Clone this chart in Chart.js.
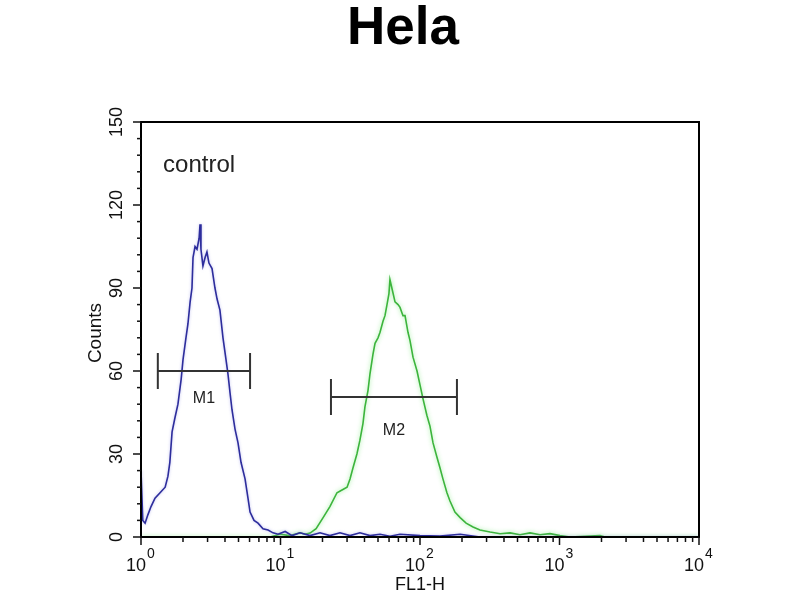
<!DOCTYPE html>
<html>
<head>
<meta charset="utf-8">
<script src="https://cdn.jsdelivr.net/npm/chart.js@4/dist/chart.umd.min.js"></script>
<style>
  html, body { margin: 0; padding: 0; background: #ffffff; }
  #wrap { width: 800px; height: 600px; position: relative; }
</style>
</head>
<body>
<div id="wrap"><canvas id="c" width="800" height="600"></canvas></div>
<script>
// ---- data ----
const chartTitle = 'Hela';
const xAxisTitle = 'FL1-H';
const yAxisTitle = 'Counts';
const annotationText = 'control';

// control histogram (blue): FL1-H value and counts
const controlX = [1.00, 1.03, 1.07, 1.12, 1.18, 1.26, 1.37, 1.49, 1.56, 1.61, 1.67, 1.75, 1.84, 1.94, 2.00,
  2.10, 2.17, 2.25, 2.32, 2.36, 2.44, 2.52, 2.61, 2.65, 2.69, 2.78, 2.88, 2.97, 3.07, 3.23, 3.39, 3.51,
  3.68, 3.87, 4.07, 4.20, 4.35, 4.49, 4.72, 4.96, 5.21, 5.57, 5.85, 6.05, 6.46, 6.90, 7.49, 8.14, 8.84,
  9.60, 10.8, 12.1, 13.8, 16.3, 19.2, 22.6, 26.7, 31.5, 37.1, 43.8, 51.7, 60.9, 71.9, 100, 139, 194,
  269, 1951, 10000];
const controlY = [24, 6, 5, 8, 11, 14, 16, 18, 22, 27, 38, 43, 48, 57, 64,
  72, 77, 85, 90, 101, 105, 104, 108, 113, 104, 98, 101, 103, 99, 97, 90, 86,
  82, 72, 64, 59, 52, 46, 39, 34, 27, 21, 14, 9, 6, 5, 3, 2.5, 1.5,
  1, 2, 0.5, 1.5, 0.5, 1.5, 0.5, 1.5, 0.5, 1.5, 0.5, 1, 0.3, 1, 0.5, 0.3, 1,
  0, 0, 0];

// sample histogram (green): FL1-H value and counts
const sampleX = [1.00, 8.41, 9.92, 11.7, 13.8, 15.0, 16.3, 18.0, 20.2, 22.6, 25.4, 27.6, 30.0, 31.5, 33.1,
  35.3, 37.1, 39.0, 40.3, 42.4, 43.8, 46.0, 47.6, 50.0, 51.7, 54.3, 56.1, 58.0, 59.9, 60.9, 63.5, 66.2,
  69.6, 71.9, 75.5, 78.1, 82.0, 84.8, 89.1, 95.2, 100, 105, 112, 118, 124, 132, 139, 146, 156, 164,
  178, 194, 214, 240, 269, 318, 375, 442, 521, 615, 725, 855, 1008, 1189, 1951, 2120, 10000];
const sampleY = [0, 0, 1, 0.5, 1.5, 1, 1.4, 3, 7, 11, 16, 17, 18, 21, 25,
  30, 35, 41, 47, 53, 59, 66, 70, 72, 74, 78, 80, 84, 88, 93, 89, 85,
  84, 83, 80, 80, 74, 71, 65, 60, 55, 50, 44, 40, 34, 29, 25, 21, 16, 13,
  9, 7, 5, 3.6, 2.5, 1.8, 1.2, 1.5, 0.8, 1.5, 0.8, 1.2, 0.5, 0, 0.5, 0, 0];

// gate markers
const markerNames = ['M1', 'M2'];
const markerStart = [1.32, 23.0];
const markerEnd = [6.05, 184];
const markerLevel = [60, 50.6];
const markerLabelLevel = [50, 38.5];

// axis ticks
const yMajorTicks = [0, 30, 60, 90, 120, 150];
const yMinorStep = 6;
const xDecades = [0, 1, 2, 3, 4];

// ---- chart ----
const FONT = '"Liberation Sans", Arial, Helvetica, sans-serif';

const toPts = (xs, ys) => xs.map((x, i) => ({ x: x, y: ys[i] }));

const glowPlugin = {
  id: 'glow',
  beforeDatasetDraw(chart, args) {
    const ctx = chart.ctx;
    ctx.save();
    if (args.index === 1) {
      ctx.shadowColor = 'rgba(140,235,140,0.9)';
      ctx.shadowBlur = 4;
    } else {
      ctx.shadowColor = 'rgba(150,150,230,0.6)';
      ctx.shadowBlur = 3;
    }
  },
  afterDatasetDraw(chart) {
    chart.ctx.restore();
  }
};

const decorPlugin = {
  id: 'decor',
  afterDraw(chart) {
    const ctx = chart.ctx;
    const xs = chart.scales.x, ys = chart.scales.y;
    const a = chart.chartArea;
    ctx.save();

    // title
    ctx.fillStyle = '#000';
    ctx.font = 'bold 53px ' + FONT;
    ctx.textAlign = 'center';
    ctx.textBaseline = 'alphabetic';
    ctx.fillText(chartTitle, 403, 44);

    // frame
    ctx.strokeStyle = '#000';
    ctx.lineWidth = 2;
    ctx.strokeRect(a.left, a.top, a.right - a.left, a.bottom - a.top);

    // y ticks
    ctx.lineWidth = 1.5;
    ctx.strokeStyle = '#111';
    for (let v = 0; v <= 150; v += yMinorStep) {
      const py = ys.getPixelForValue(v);
      const major = yMajorTicks.includes(v);
      ctx.beginPath();
      ctx.moveTo(a.left, py);
      ctx.lineTo(a.left - (major ? 8 : 4), py);
      ctx.stroke();
    }
    // y labels (rotated)
    ctx.fillStyle = '#111';
    ctx.font = '18px ' + FONT;
    ctx.textAlign = 'center';
    ctx.textBaseline = 'middle';
    yMajorTicks.forEach(v => {
      const py = ys.getPixelForValue(v);
      ctx.save();
      ctx.translate(a.left - 24, py);
      ctx.rotate(-Math.PI / 2);
      ctx.fillText(String(v), 0, 0);
      ctx.restore();
    });
    // y title
    ctx.save();
    ctx.font = '19px ' + FONT;
    ctx.translate(96, 333);
    ctx.rotate(-Math.PI / 2);
    ctx.fillText(yAxisTitle, 0, 0);
    ctx.restore();

    // x ticks
    for (let d = 0; d < 4; d++) {
      for (let m = 1; m <= 9; m++) {
        const val = m * Math.pow(10, d);
        const px = xs.getPixelForValue(val);
        ctx.beginPath();
        ctx.moveTo(px, a.bottom);
        ctx.lineTo(px, a.bottom + (m === 1 ? 8 : 5));
        ctx.stroke();
      }
    }
    {
      const px = xs.getPixelForValue(10000);
      ctx.beginPath();
      ctx.moveTo(px, a.bottom);
      ctx.lineTo(px, a.bottom + 8);
      ctx.stroke();
    }
    // x labels 10^n
    xDecades.forEach(d => {
      const px = xs.getPixelForValue(Math.pow(10, d));
      ctx.font = '18px ' + FONT;
      const w1 = ctx.measureText('10').width;
      ctx.font = '14px ' + FONT;
      const w2 = ctx.measureText(String(d)).width;
      const start = px - (w1 + w2) / 2 - 1;
      ctx.textAlign = 'left';
      ctx.textBaseline = 'alphabetic';
      ctx.font = '18px ' + FONT;
      ctx.fillText('10', start, 571);
      ctx.font = '14px ' + FONT;
      ctx.fillText(String(d), start + w1 + 1, 558);
    });
    // x title
    ctx.font = '18px ' + FONT;
    ctx.textAlign = 'center';
    ctx.fillText(xAxisTitle, 420, 590);

    // annotation
    ctx.font = '24px ' + FONT;
    ctx.textAlign = 'left';
    ctx.fillStyle = '#222';
    ctx.fillText(annotationText, xs.getPixelForValue(1.44), 172);

    // markers
    ctx.strokeStyle = '#333';
    ctx.lineWidth = 2;
    markerNames.forEach((name, i) => {
      const x1 = xs.getPixelForValue(markerStart[i]);
      const x2 = xs.getPixelForValue(markerEnd[i]);
      const py = ys.getPixelForValue(markerLevel[i]);
      ctx.beginPath();
      ctx.moveTo(x1, py); ctx.lineTo(x2, py);
      ctx.moveTo(x1, py - 18); ctx.lineTo(x1, py + 18);
      ctx.moveTo(x2, py - 18); ctx.lineTo(x2, py + 18);
      ctx.stroke();
      ctx.font = '16px ' + FONT;
      ctx.textAlign = 'center';
      ctx.textBaseline = 'middle';
      ctx.fillStyle = '#222';
      ctx.fillText(name, Math.sqrt(markerStart[i] * markerEnd[i]) ? xs.getPixelForValue(Math.sqrt(markerStart[i] * markerEnd[i])) : x1, ys.getPixelForValue(markerLabelLevel[i]));
    });

    ctx.restore();
  }
};

new Chart(document.getElementById('c'), {
  type: 'line',
  data: {
    datasets: [
      {
        label: 'control',
        data: toPts(controlX, controlY),
        borderColor: '#2d2d9c',
        borderWidth: 1.6,
        pointRadius: 0,
        tension: 0,
        fill: false
      },
      {
        label: 'sample',
        data: toPts(sampleX, sampleY),
        borderColor: '#3cb43c',
        borderWidth: 1.6,
        pointRadius: 0,
        tension: 0,
        fill: false
      }
    ]
  },
  options: {
    responsive: false,
    animation: false,
    devicePixelRatio: 1,
    layout: { padding: { left: 141, right: 101, top: 122, bottom: 63 } },
    plugins: { legend: { display: false }, title: { display: false }, tooltip: { enabled: false } },
    scales: {
      x: { type: 'logarithmic', min: 1, max: 10000, display: false },
      y: { type: 'linear', min: 0, max: 150, display: false }
    }
  },
  plugins: [glowPlugin, decorPlugin]
});
</script>
</body>
</html>
